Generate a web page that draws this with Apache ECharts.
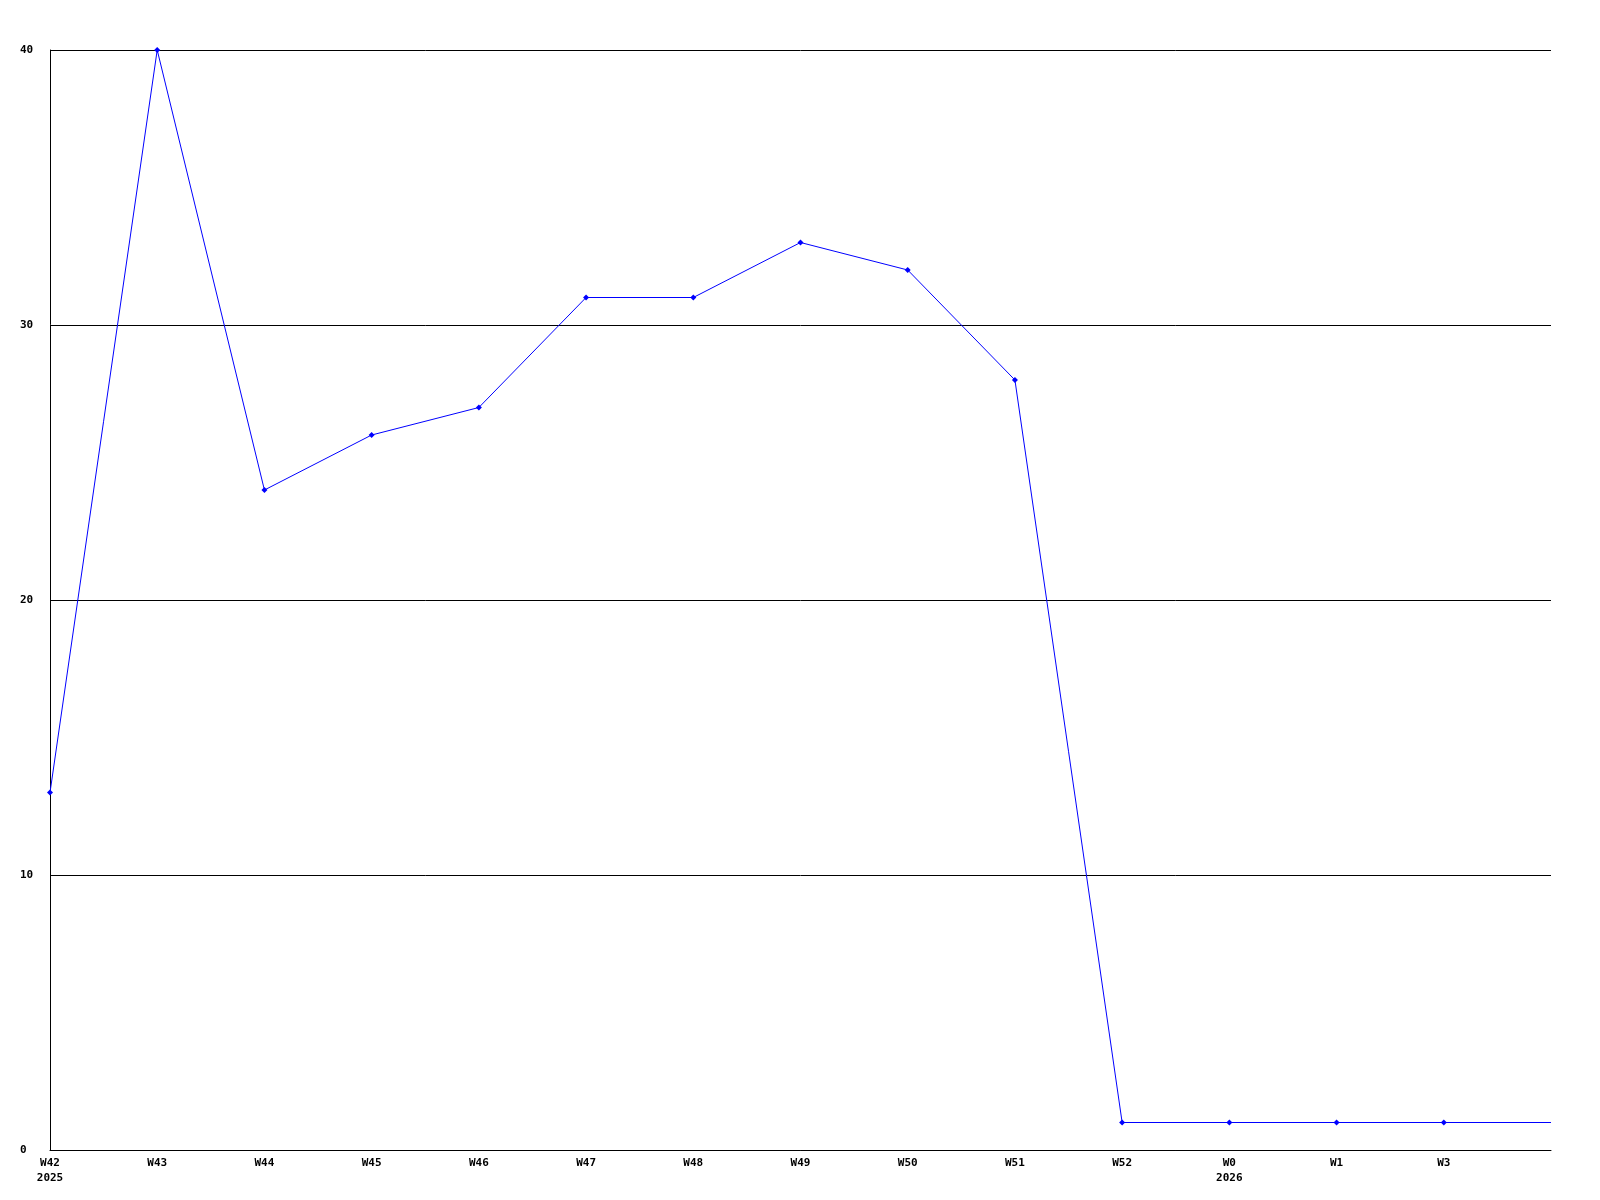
<!DOCTYPE html>
<html>
<head>
<meta charset="utf-8">
<script src="https://cdn.jsdelivr.net/npm/echarts@6/dist/echarts.min.js"></script>
<style>
  html, body { margin: 0; padding: 0; background: #fff; }
  #chart { width: 1600px; height: 1200px; }
</style>
</head>
<body>
<div id="chart"></div>
<script>
// weeks on the x axis; last slot has no label, the line just runs to the edge
const weeks = ['W42\n2025', 'W43', 'W44', 'W45', 'W46', 'W47', 'W48', 'W49', 'W50', 'W51', 'W52', 'W0\n2026', 'W1', 'W3', '']
const counts = [13, 40, 24, 26, 27, 31, 31, 33, 32, 28, 1, 1, 1, 1, 1]
const yTicks = [0, 10, 20, 30, 40]

const labelFont = {
  fontFamily: 'DejaVu Sans Mono',
  fontWeight: 'bold',
  fontSize: 11,
  color: '#000'
}

const myChart = echarts.init(document.getElementById('chart'))
myChart.setOption({
  animation: false,
  grid: { left: 50, right: 49, top: 50, bottom: 50, containLabel: false },
  xAxis: {
    type: 'category',
    data: weeks,
    boundaryGap: false,
    axisLine: { lineStyle: { color: '#000', width: 1 } },
    axisTick: { show: false },
    axisLabel: Object.assign({ interval: 0, margin: 6, lineHeight: 15 }, labelFont),
    splitLine: { show: false }
  },
  yAxis: {
    type: 'value',
    min: yTicks[0],
    max: yTicks[yTicks.length - 1],
    interval: 10,
    axisLine: { show: true, lineStyle: { color: '#000', width: 1 } },
    axisTick: { show: false },
    axisLabel: Object.assign({ align: 'left', margin: 30 }, labelFont),
    splitLine: { lineStyle: { color: '#000', width: 1 } }
  },
  series: [
    {
      type: 'line',
      data: counts.map((v, i) => ({
        value: v,
        symbol: i === counts.length - 1 ? 'none' : 'diamond'
      })),
      symbolSize: 6,
      lineStyle: { color: '#0000ff', width: 1 },
      itemStyle: { color: '#0000ff' }
    }
  ]
})
</script>
</body>
</html>
